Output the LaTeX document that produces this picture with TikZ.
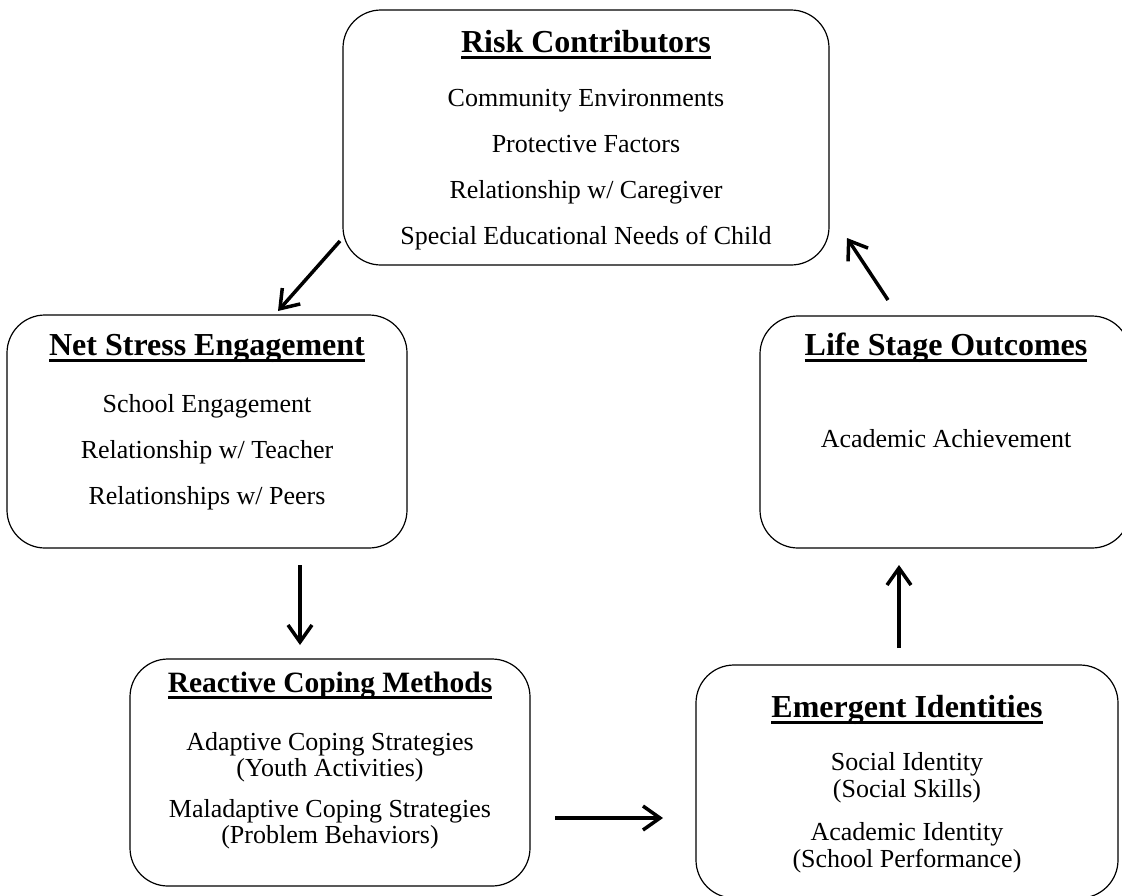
\documentclass[tikz,border=0pt]{standalone}
\usepackage{fontspec}
\setmainfont{Liberation Serif}
\usetikzlibrary{arrows.meta}
% thick underline for the bold box headings
\newcommand\ulbar[1]{\setbox0\hbox{#1}\rlap{\rule[-7pt]{\wd0}{3pt}}\box0}
\begin{document}
\begin{tikzpicture}[x=1pt,y=-1pt,
  stage/.style={draw=black, line width=1.2pt, rounded corners=38pt, inner sep=0pt},
  heading/.style={anchor=base, inner sep=0pt, font=\fontsize{32}{36}\selectfont\bfseries},
  items/.style={anchor=north, inner sep=0pt, align=center, font=\fontsize{26}{46}\selectfont},
  flow/.style={line width=3.5pt, -{Straight Barb[length=17pt,width=24pt]}}]

\fill[white] (0,0) rectangle (1122,895);
\useasboundingbox (0,0) rectangle (1122,895);

% stage boxes
\node[stage, minimum width=486pt, minimum height=255pt] (risk)  at (586,137.5) {};
\node[stage, minimum width=400pt, minimum height=233pt] (net)   at (207,431.5) {};
\node[stage, minimum width=370pt, minimum height=232pt] (life)  at (945,432) {};
\node[stage, minimum width=400pt, minimum height=227pt] (react) at (330,772.5) {};
\node[stage, minimum width=422pt, minimum height=233pt] (emerg) at (907,781.5) {};

% Risk Contributors
\node[heading] (riskT) at (586,52) {\ulbar{Risk Contributors}};
\node[items] (riskB) at (586,84) {\rule{0pt}{22pt}Community Environments\\Protective Factors\\Relationship w/ Caregiver\\Special Educational Needs of Child};

% Net Stress Engagement
\node[heading] (netT) at (207,355) {\ulbar{Net Stress Engagement}};
\node[items] (netB) at (207,390) {\rule{0pt}{22pt}School Engagement\\Relationship w/ Teacher\\Relationships w/ Peers};

% Life Stage Outcomes
\node[heading] (lifeT) at (946,355) {\ulbar{Life Stage Outcomes}};
\node[items] (lifeB) at (946,425) {\rule{0pt}{22pt}Academic Achievement};

% Reactive Coping Methods
\node[heading, font=\fontsize{29.5}{34}\selectfont\bfseries] (reactT) at (330,692) {\ulbar{Reactive Coping Methods}};
\node[items, font=\fontsize{26}{26}\selectfont] (reactB) at (330,728)
  {\rule{0pt}{22pt}Adaptive Coping Strategies\\(Youth Activities)\\[15pt]Maladaptive Coping Strategies\\(Problem Behaviors)};

% Emergent Identities
\node[heading] (emergT) at (907,717) {\ulbar{Emergent Identities}};
\node[items, font=\fontsize{26}{27}\selectfont] (emergB) at (907,748)
  {\rule{0pt}{22pt}Social Identity\\(Social Skills)\\[16pt]Academic Identity\\(School Performance)};

% arrow end points
\coordinate (a1s) at (340,241);  \coordinate (a1e) at (278,311);
\coordinate (a2s) at (300,565);  \coordinate (a2e) at (300,645);
\coordinate (a3s) at (555,818);  \coordinate (a3e) at (663,818);
\coordinate (a4s) at (899,648);  \coordinate (a4e) at (899,565);
\coordinate (a5s) at (888,300);  \coordinate (a5e) at (847,238);

\draw[flow] (a1s) -- (a1e);
\draw[flow] (a2s) -- (a2e);
\draw[flow] (a3s) -- (a3e);
\draw[flow] (a4s) -- (a4e);
\draw[flow] (a5s) -- (a5e);
\end{tikzpicture}
\end{document}
